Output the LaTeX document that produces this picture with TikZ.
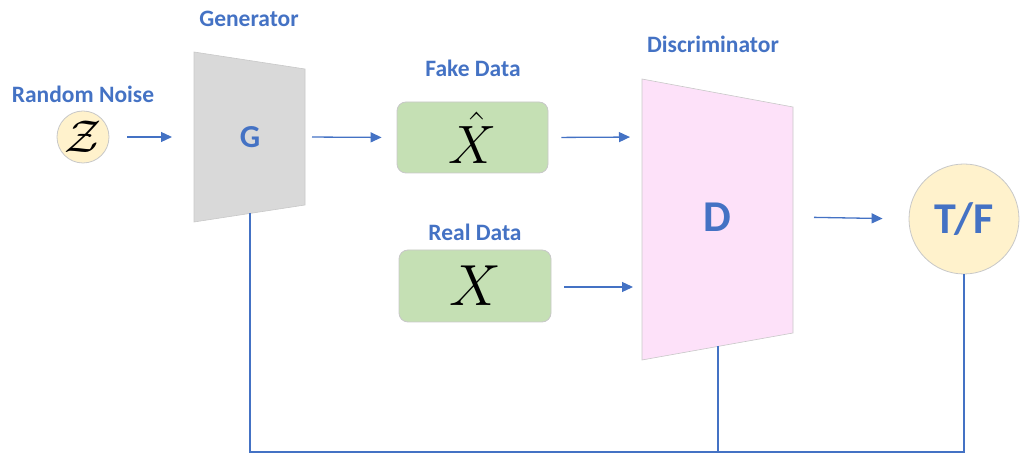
\documentclass[tikz,border=0pt]{standalone}
\usepackage{fix-cm}
\usepackage{fontspec}
\setmainfont{Carlito}
\usetikzlibrary{arrows.meta}
\definecolor{oblue}{HTML}{4472C4}
\definecolor{ggrey}{HTML}{D9D9D9}
\definecolor{dpink}{HTML}{FDE1F9}
\definecolor{cyell}{HTML}{FFF2CC}
\definecolor{bgreen}{HTML}{C5E0B4}
\definecolor{edgegrey}{HTML}{C8C8C8}
\tikzset{
  lbl/.style={text=oblue,font=\bfseries\fontsize{23.5}{26}\selectfont,anchor=base,inner sep=0},
  big/.style={text=oblue,font=\bfseries\fontsize{44}{48}\selectfont,anchor=base,inner sep=0},
  databox/.style={draw=edgegrey,fill=bgreen,rounded corners=9pt,inner sep=0,line width=0.8pt},
  circ/.style={circle,draw=edgegrey,fill=cyell,inner sep=0,line width=0.8pt},
  arr/.style={draw=oblue,line width=1.3pt,-{Triangle[length=11pt,width=10pt]}},
  wire/.style={draw=oblue,line width=1.4pt}
}
\begin{document}
\begin{tikzpicture}[x=1pt,y=-1pt]
\useasboundingbox (0,0) rectangle (1021,454);
% generator trapezoid
\coordinate (Gtl) at (194,52);
\coordinate (Gtr) at (305,69);
\coordinate (Gbr) at (305,205);
\coordinate (Gbl) at (194,222);
\fill[ggrey,draw=edgegrey,line width=0.6pt] (Gtl) -- (Gtr) -- (Gbr) -- (Gbl) -- cycle;
\coordinate (Gin) at (194,137);
\coordinate (Gout) at (305,137);
\coordinate (Gbot) at (250,213);
\node[big,font=\bfseries\fontsize{32}{36}\selectfont] (G) at (250,148) {G};
\node[lbl] (genlbl) at (249,27) {Generator};
% discriminator trapezoid
\coordinate (Dtl) at (642,79);
\coordinate (Dtr) at (793,107);
\coordinate (Dbr) at (793,333);
\coordinate (Dbl) at (642,360);
\fill[dpink,draw=edgegrey,line width=0.6pt] (Dtl) -- (Dtr) -- (Dbr) -- (Dbl) -- cycle;
\coordinate (Dout) at (793,217);
\coordinate (Dbot) at (718,346);
\node[big] (D) at (717,232) {D};
\node[lbl] (disclbl) at (713,53) {Discriminator};
% noise
\node[circ,minimum size=52pt] (z) at (83,137) {\fontsize{46}{46}\selectfont$\mathcal{Z}$};
\node[lbl] (noiselbl) at (83,103) {Random Noise};
% data boxes
\node[databox,minimum width=151pt,minimum height=71pt] (fake) at (472.5,137.5) {\fontsize{54}{54}\selectfont$\hat{X}$};
\node[lbl] (fakelbl) at (473,77) {Fake Data};
\node[databox,minimum width=152pt,minimum height=72pt] (real) at (475,286) {\fontsize{58}{58}\selectfont$X$};
\node[lbl] (reallbl) at (475,241) {Real Data};
% output
\node[circ,minimum size=110pt,text=oblue,font=\bfseries\fontsize{44}{48}\selectfont] (tf) at (964,219) {T/F};
% arrows
\draw[arr,shorten <=18pt,shorten >=22pt] (z.east) -- (Gin);
\draw[arr,shorten <=7pt,shorten >=15pt] (Gout) -- (fake.west);
\coordinate (Din1) at (642,137);
\coordinate (Din2) at (642,287);
\draw[arr,shorten <=13pt,shorten >=12pt] (fake.east) -- (Din1);
\draw[arr,shorten <=13pt,shorten >=9pt] (real.east |- Din2) -- (Din2);
\draw[arr,shorten <=21pt,shorten >=26pt] (Dout) -- (tf.west);
% feedback wires
\coordinate (busL) at (250,452);
\coordinate (busR) at (964,452);
\draw[wire] (Gbot) -- (busL) -- (busR) -- (tf.south);
\draw[wire] (Dbot) -- (Dbot |- busL);
\end{tikzpicture}
\end{document}
